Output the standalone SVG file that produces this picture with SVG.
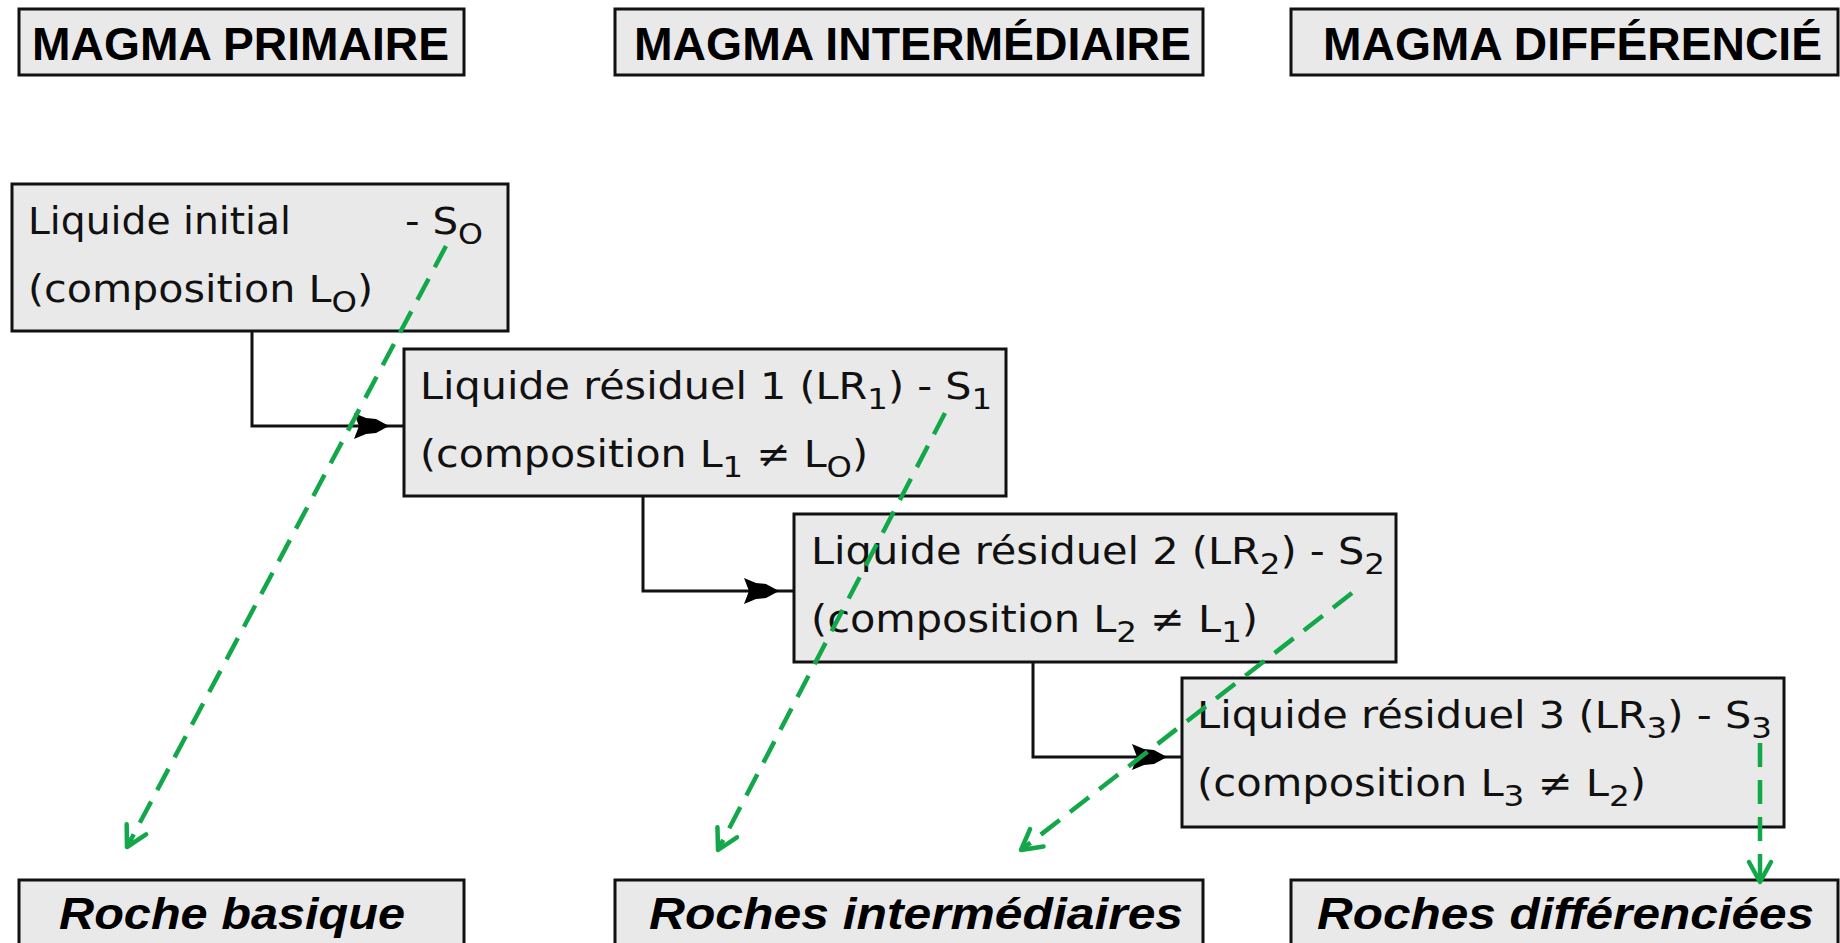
<svg xmlns="http://www.w3.org/2000/svg" width="1840" height="943" viewBox="0 0 1840 943">
<style>
.box{fill:#e9e9e9;stroke:#111;stroke-width:3}
.hdr{font-family:"Liberation Sans",Arial,sans-serif;font-weight:bold;font-size:46px;fill:#000}
.bot{font-family:"Liberation Sans",Arial,sans-serif;font-style:italic;font-weight:bold;font-size:44px;fill:#000}
.txt{font-family:"DejaVu Sans","Liberation Sans",sans-serif;font-size:37px;fill:#111}
.sub{font-size:29px}
.elbow{fill:none;stroke:#111;stroke-width:3}
.green{fill:none;stroke:#12a84a;stroke-width:4.5;stroke-dasharray:24 13}
</style>
<defs>
<marker id="gh" markerUnits="userSpaceOnUse" markerWidth="40" markerHeight="40" viewBox="-30 -20 40 40" refX="0" refY="0" orient="auto">
<path d="M-20,-11 L0,0 L-20,11" fill="none" stroke="#12a84a" stroke-width="4.5" stroke-linecap="round" stroke-linejoin="round"/>
</marker>
<path id="ah" d="M0,-13 L12,-8 L22,-7 L35,0 L22,7 L12,8 L0,13 L5,0 Z" fill="#000"/>
</defs>

<g id="header-primaire"><rect class="box" x="19" y="9" width="445" height="66"/><text class="hdr" x="32" y="60" textLength="417" lengthAdjust="spacingAndGlyphs">MAGMA PRIMAIRE</text></g>
<g id="header-intermediaire"><rect class="box" x="615" y="9" width="588" height="66"/><text class="hdr" x="634" y="60" textLength="557" lengthAdjust="spacingAndGlyphs">MAGMA INTERMÉDIAIRE</text></g>
<g id="header-differencie"><rect class="box" x="1291" y="9" width="547" height="66"/><text class="hdr" x="1323" y="60" textLength="499" lengthAdjust="spacingAndGlyphs">MAGMA DIFFÉRENCIÉ</text></g>

<g id="connectors">
<path class="elbow" d="M252,331 V426 H404"/>
<use href="#ah" x="354" y="426"/>
<path class="elbow" d="M643,496 V591 H794"/>
<use href="#ah" x="744" y="591"/>
<path class="elbow" d="M1033,662 V757 H1182"/>
<use href="#ah" x="1132" y="757"/>
</g>

<g id="node0"><rect class="box" x="12" y="184" width="496" height="147"/>
<text class="txt" x="28" y="234" textLength="263" lengthAdjust="spacingAndGlyphs">Liquide initial</text>
<text class="txt" x="405" y="234" textLength="78" lengthAdjust="spacingAndGlyphs">- S<tspan class="sub" dy="10">O</tspan></text>
<text class="txt" x="28" y="302" textLength="345" lengthAdjust="spacingAndGlyphs">(composition L<tspan class="sub" dy="10">O</tspan><tspan dy="-10">)</tspan></text>
</g>
<g id="node1"><rect class="box" x="404" y="349" width="602" height="147"/>
<text class="txt" x="420" y="399" textLength="572" lengthAdjust="spacingAndGlyphs">Liquide résiduel 1 (LR<tspan class="sub" dy="10">1</tspan><tspan dy="-10">) - S</tspan><tspan class="sub" dy="10">1</tspan></text>
<text class="txt" x="420" y="467" textLength="448" lengthAdjust="spacingAndGlyphs">(composition L<tspan class="sub" dy="10">1</tspan><tspan dy="-10"> ≠ L</tspan><tspan class="sub" dy="10">O</tspan><tspan dy="-10">)</tspan></text>
</g>
<g id="node2"><rect class="box" x="794" y="514" width="602" height="148"/>
<text class="txt" x="811" y="564" textLength="574" lengthAdjust="spacingAndGlyphs">Liquide résiduel 2 (LR<tspan class="sub" dy="10">2</tspan><tspan dy="-10">) - S</tspan><tspan class="sub" dy="10">2</tspan></text>
<text class="txt" x="811" y="632" textLength="447" lengthAdjust="spacingAndGlyphs">(composition L<tspan class="sub" dy="10">2</tspan><tspan dy="-10"> ≠ L</tspan><tspan class="sub" dy="10">1</tspan><tspan dy="-10">)</tspan></text>
</g>
<g id="node3"><rect class="box" x="1182" y="678" width="602" height="149"/>
<text class="txt" x="1197" y="728" textLength="575" lengthAdjust="spacingAndGlyphs">Liquide résiduel 3 (LR<tspan class="sub" dy="10">3</tspan><tspan dy="-10">) - S</tspan><tspan class="sub" dy="10">3</tspan></text>
<text class="txt" x="1197" y="796" textLength="449" lengthAdjust="spacingAndGlyphs">(composition L<tspan class="sub" dy="10">3</tspan><tspan dy="-10"> ≠ L</tspan><tspan class="sub" dy="10">2</tspan><tspan dy="-10">)</tspan></text>
</g>

<g id="rock-basique"><rect class="box" x="19" y="880" width="445" height="80"/><text class="bot" x="59" y="929" textLength="346" lengthAdjust="spacingAndGlyphs">Roche basique</text></g>
<g id="rock-intermediaires"><rect class="box" x="615" y="880" width="588" height="80"/><text class="bot" x="649" y="929" textLength="534" lengthAdjust="spacingAndGlyphs">Roches intermédiaires</text></g>
<g id="rock-differenciees"><rect class="box" x="1291" y="880" width="547" height="80"/><text class="bot" x="1317" y="929" textLength="497" lengthAdjust="spacingAndGlyphs">Roches différenciées</text></g>

<g id="green-connectors">
<path class="green" d="M446,246 L127,847" marker-end="url(#gh)"/>
<path class="green" d="M945,413 L718,850" marker-end="url(#gh)"/>
<path class="green" d="M1352,593 L1021,850" marker-end="url(#gh)"/>
<path class="green" d="M1760,743 L1760,882" marker-end="url(#gh)"/>
</g>
</svg>
